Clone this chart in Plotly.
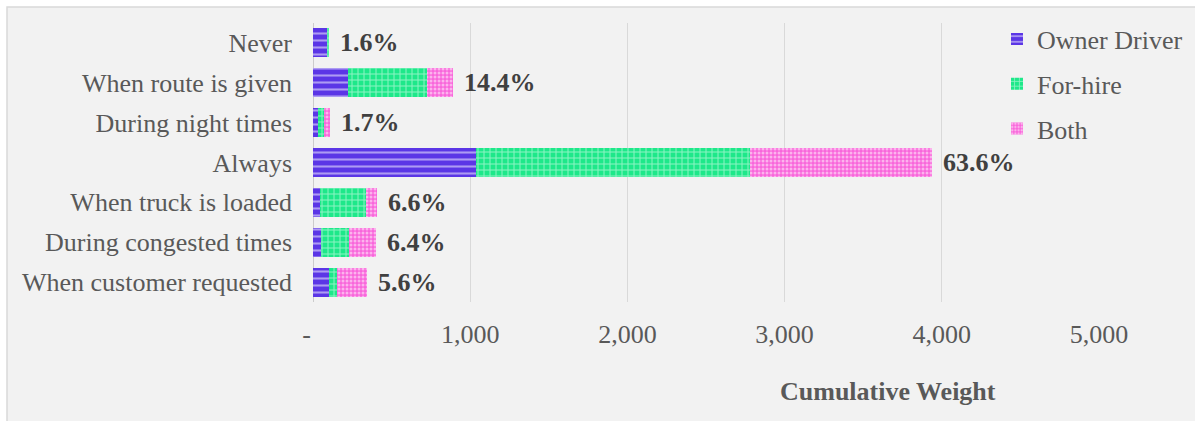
import plotly.graph_objects as go

categories = ["Never", "When route is given", "During night times", "Always",
              "When truck is loaded", "During congested times", "When customer requested"]
owner_driver = [92, 225, 30, 1040, 45, 51, 100]
for_hire = [7, 497, 42, 1740, 290, 178, 53]
both = [0, 168, 33, 1160, 74, 170, 191]
pct_labels = ["1.6%", "14.4%", "1.7%", "63.6%", "6.6%", "6.4%", "5.6%"]
x_tickvals = [0, 1000, 2000, 3000, 4000, 5000]
x_ticktext = ["-\u00a0\u00a0", "1,000", "2,000", "3,000", "4,000", "5,000"]

FONT = "Liberation Serif, Times New Roman, serif"
PURPLE = "#5B36E6"
GREEN = "#1EE88A"
PINK = "#F966DB"

fig = go.Figure()
series = [
    ("Owner Driver", owner_driver, PURPLE, "-", 7, 0.3),
    ("For-hire", for_hire, GREEN, "+", 6, 0.3),
    ("Both", both, PINK, ".", 4, 0.45),
]
for name, vals, col, shp, sz, sol in series:
    fig.add_trace(go.Bar(
        y=categories, x=vals, name=name, orientation="h",
        legendgroup=name,
        marker=dict(color=col, line=dict(width=0),
                    pattern=dict(shape=shp, fgcolor="white", bgcolor=col,
                                 size=sz, solidity=sol, fillmode="overlay")),
    ))

totals = [a + b + c for a, b, c in zip(owner_driver, for_hire, both)]
for cat, tot, lab in zip(categories, totals, pct_labels):
    fig.add_annotation(x=tot, y=cat, text="<b>" + lab + "</b>", showarrow=False,
                       xanchor="left", xshift=9,
                       font=dict(family=FONT, size=26, color="#404040"))

fig.add_annotation(x=0.7316, y=-0.319, xref="paper", yref="paper",
                   text="<b>Cumulative Weight</b>", showarrow=False,
                   xanchor="center", yanchor="middle",
                   font=dict(family=FONT, size=26, color="#595959"))

fig.add_shape(type="rect", xref="paper", yref="paper",
              x0=-0.3893, x1=1.2, y0=-0.5, y1=1.0573,
              fillcolor="#F2F2F2", line=dict(color="#D9D9D9", width=1.5),
              layer="below")

fig.update_layout(
    barmode="stack",
    bargap=0.27,
    width=1195, height=421, autosize=False,
    margin=dict(l=313, r=96, t=23, b=119, autoexpand=False),
    paper_bgcolor="white",
    plot_bgcolor="rgba(0,0,0,0)",
    font=dict(family=FONT, size=26, color="#595959"),
    legend=dict(xref="container", yref="container",
                x=0.8343, y=0.963, xanchor="left", yanchor="top",
                bgcolor="rgba(0,0,0,0)", traceorder="grouped",
                tracegroupgap=8,
                font=dict(family=FONT, size=26, color="#595959")),
    xaxis=dict(range=[0, 5000], tickvals=x_tickvals, ticktext=x_ticktext,
               showgrid=True, gridcolor="#D9D9D9", gridwidth=1.3,
               zeroline=False, showline=False, ticks="",
               ticklabelstandoff=14,
               tickfont=dict(family=FONT, size=26, color="#595959")),
    yaxis=dict(categoryorder="array", categoryarray=categories,
               range=[6.5, -0.5], showgrid=False, zeroline=False,
               showline=False, ticks="", ticklabelstandoff=20,
               tickfont=dict(family=FONT, size=26, color="#595959")),
)
fig.add_shape(type="line", xref="x", yref="paper", x0=0, x1=0, y0=0, y1=1,
              line=dict(color="#BFBFBF", width=1.5), layer="below")

fig.write_html("out.html")
